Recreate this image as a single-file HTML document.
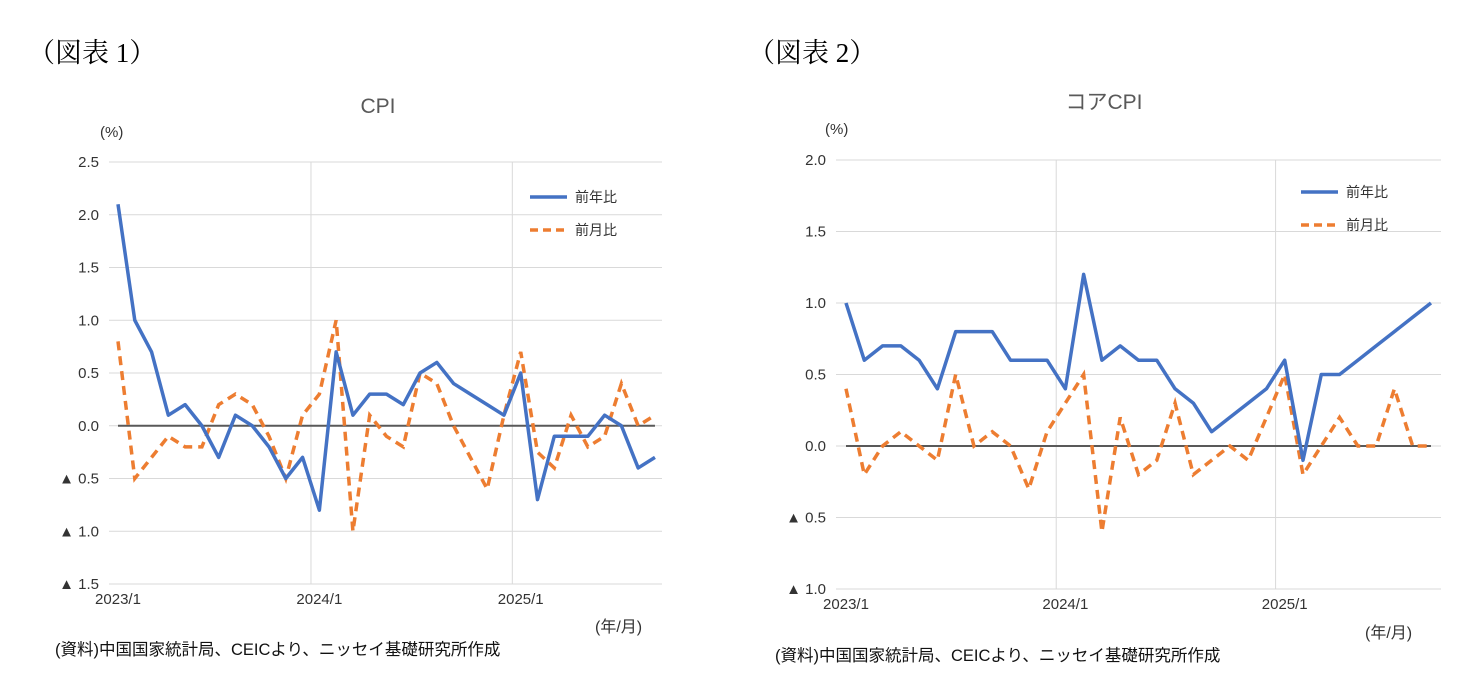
<!DOCTYPE html>
<html><head><meta charset="utf-8"><style>
body{margin:0;background:#fff;width:1483px;height:685px;overflow:hidden}
svg text{font-family:"Liberation Sans","Noto Sans CJK JP",sans-serif}
</style></head><body>
<svg id="s" width="1483" height="685" xmlns="http://www.w3.org/2000/svg">
<text x="28" y="62" font-size="27" style="font-family:'Liberation Serif','Noto Serif CJK SC',serif">（図表 1）</text>
<text x="748" y="62" font-size="27" style="font-family:'Liberation Serif','Noto Serif CJK SC',serif">（図表 2）</text>
</svg>
<script>
const cats = [];
for (let y = 2023; y <= 2025; y++) for (let m = 1; m <= 12; m++) if (cats.length < 33) cats.push(y + '/' + m);
const cpiYoY = [2.1,1.0,0.7,0.1,0.2,0.0,-0.3,0.1,0.0,-0.2,-0.5,-0.3,-0.8,0.7,0.1,0.3,0.3,0.2,0.5,0.6,0.4,0.3,0.2,0.1,0.5,-0.7,-0.1,-0.1,-0.1,0.1,0.0,-0.4,-0.3];
const cpiMoM = [0.8,-0.5,-0.3,-0.1,-0.2,-0.2,0.2,0.3,0.2,-0.1,-0.5,0.1,0.3,1.0,-1.0,0.1,-0.1,-0.2,0.5,0.4,0.0,-0.3,-0.6,0.1,0.7,-0.25,-0.4,0.1,-0.2,-0.1,0.4,0.0,0.1];
const coreYoY = [1.0,0.6,0.7,0.7,0.6,0.4,0.8,0.8,0.8,0.6,0.6,0.6,0.4,1.2,0.6,0.7,0.6,0.6,0.4,0.3,0.1,0.2,0.3,0.4,0.6,-0.1,0.5,0.5,0.6,0.7,0.8,0.9,1.0];
const coreMoM = [0.4,-0.2,0.0,0.1,0.0,-0.1,0.5,0.0,0.1,0.0,-0.3,0.1,0.3,0.5,-0.6,0.2,-0.2,-0.1,0.3,-0.2,-0.1,0.0,-0.1,0.2,0.5,-0.2,0.0,0.2,0.0,0.0,0.4,0.0,0.0];
const ticks1 = [2.5,2.0,1.5,1.0,0.5,0.0,-0.5,-1.0,-1.5];
const ticks2 = [2.0,1.5,1.0,0.5,0.0,-0.5,-1.0];
const xLabels = ['2023/1','2024/1','2025/1'];

const S = document.getElementById('s');
const NS = 'http://www.w3.org/2000/svg';
function mk(tag, attrs, txt){const e=document.createElementNS(NS,tag);for(const k in attrs)e.setAttribute(k,attrs[k]);if(txt!==undefined)e.textContent=txt;S.appendChild(e);return e;}
function fmt(v){return v<0?'▲ '+Math.abs(v).toFixed(1):v.toFixed(1);}

function chart(c){
  const y=v=>c.top+(c.ymax-v)/(c.ymax-c.ymin)*(c.bot-c.top);
  const x=i=>c.x0+i*c.dx;
  let t=mk('text',{x:c.titleX,y:c.titleY,'font-size':21,fill:'#595959','text-anchor':'middle'},c.title);
  
  
  t=mk('text',{x:c.unitX,y:c.unitY,'font-size':15,fill:'#333'},'(%)');
  
  
  c.ticks.forEach(v=>{
    const g=mk('line',{x1:c.left,x2:c.right,y1:y(v),y2:y(v),stroke:'#d9d9d9','stroke-width':1});
    
    
    const l=mk('text',{x:c.left-10,y:y(v)+5,'font-size':15,fill:'#333','text-anchor':'end'},fmt(v));
    
    
  });
  xLabels.forEach((lab,k)=>{
    const i=cats.indexOf(lab);
    const gx=k===0?c.left:x(i)-c.dx*0.5;
    if(k>0){const g=mk('line',{x1:gx,x2:gx,y1:c.top,y2:c.bot,stroke:'#d9d9d9'});
      
      }
    const l=mk('text',{x:x(i),y:c.bot+20,'font-size':15,fill:'#333','text-anchor':'middle'},lab);
    
    
  });
  const z=mk('line',{x1:x(0),x2:x(32),y1:y(0),y2:y(0),stroke:'#595959','stroke-width':2});
  
  
  const p2=mk('polyline',{points:c.mom.map((v,i)=>x(i)+','+y(v)).join(' '),fill:'none',stroke:'#ed7d31','stroke-width':3.5,'stroke-dasharray':'9,6'});
  
  
  const p1=mk('polyline',{points:c.yoy.map((v,i)=>x(i)+','+y(v)).join(' '),fill:'none',stroke:'#4472c4','stroke-width':3.5,'stroke-linejoin':'round'});
  
  
  let e=mk('line',{x1:c.lgX,x2:c.lgX+37,y1:c.lgY,y2:c.lgY,stroke:'#4472c4','stroke-width':3.5});
  
  
  e=mk('text',{x:c.lgX+45,y:c.lgY+5,'font-size':14,fill:'#333'},'前年比');
  
  
  e=mk('line',{x1:c.lgX,x2:c.lgX+37,y1:c.lgY+33,y2:c.lgY+33,stroke:'#ed7d31','stroke-width':3.5,'stroke-dasharray':'8,5'});
  
  
  e=mk('text',{x:c.lgX+45,y:c.lgY+38,'font-size':14,fill:'#333'},'前月比');
  
  
  e=mk('text',{x:c.xuX,y:c.xuY,'font-size':16,fill:'#333'},'(年/月)');
  
  
  e=mk('text',{x:c.srcX,y:c.srcY,'font-size':16.5,fill:'#111'},'(資料)中国国家統計局、CEICより、ニッセイ基礎研究所作成');
  
  
}
chart({id:'cpi',title:'CPI',titleX:378,titleY:113,unitX:100,unitY:137,left:109,right:662,top:162,bot:584,ymax:2.5,ymin:-1.5,ticks:ticks1,x0:118,dx:16.78,yoy:cpiYoY,mom:cpiMoM,lgX:530,lgY:197,xuX:595,xuY:632,srcX:55,srcY:655});
chart({id:'core',title:'コアCPI',titleX:1104,titleY:109,unitX:825,unitY:134,left:836,right:1441,top:160,bot:589,ymax:2.0,ymin:-1.0,ticks:ticks2,x0:846,dx:18.28,yoy:coreYoY,mom:coreMoM,lgX:1301,lgY:192,xuX:1365,xuY:638,srcX:775,srcY:661});
</script>
</body></html>
